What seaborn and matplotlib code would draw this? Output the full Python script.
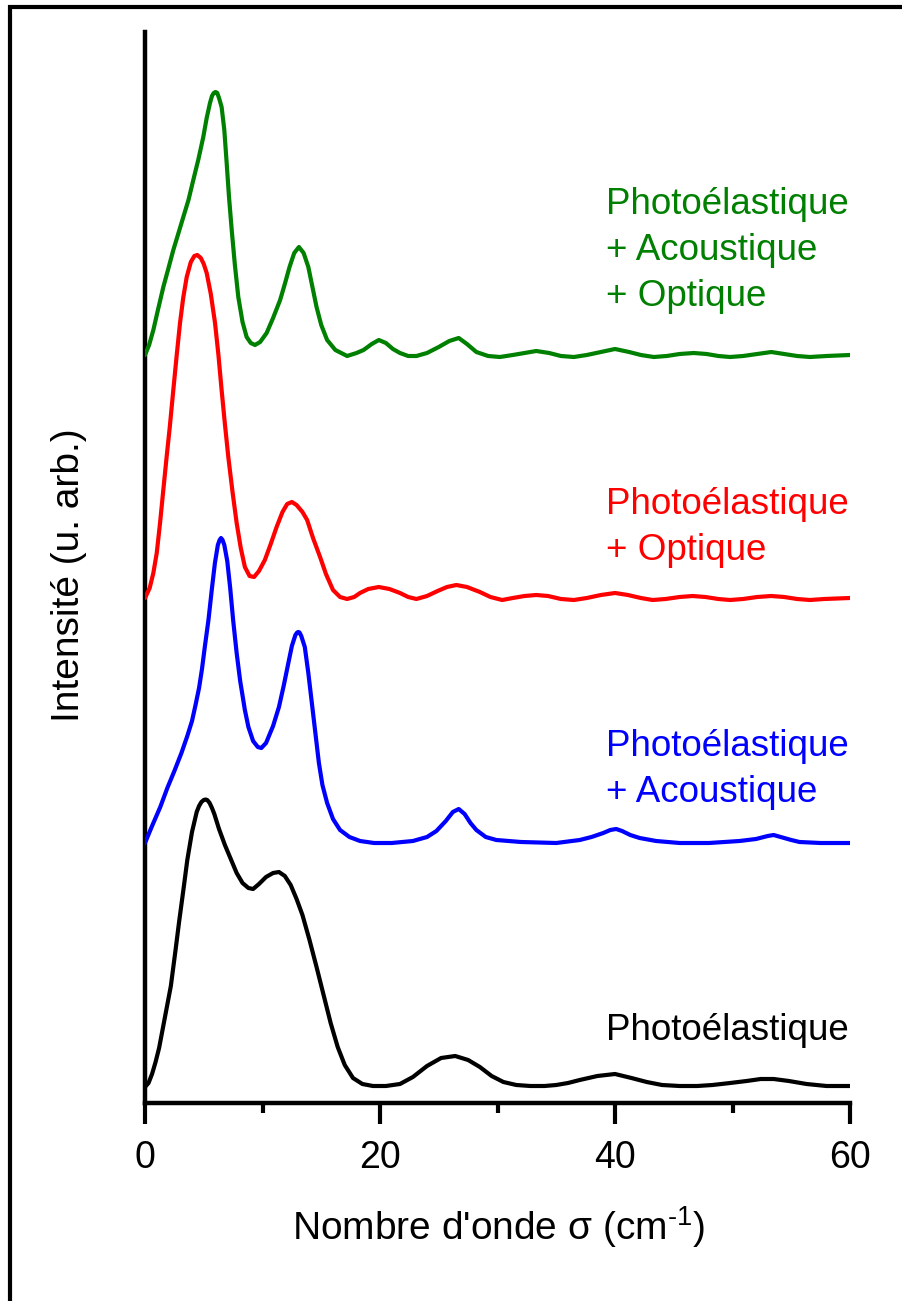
import numpy as np
import pandas as pd
import matplotlib
matplotlib.use("Agg")
import matplotlib.pyplot as plt
import seaborn as sns

sns.set_style("white")
plt.rcParams['font.family'] = ['Liberation Sans', 'DejaVu Sans']
plt.rcParams['mathtext.fontset'] = 'custom'
plt.rcParams['mathtext.rm'] = 'Liberation Sans'
plt.rcParams['text.color'] = 'black'
plt.rcParams['axes.labelcolor'] = 'black'
plt.rcParams['xtick.color'] = 'black'

# Photoélastique (noir)
sigma_pe = [0, 0.3, 0.6, 0.9, 1.2, 1.7, 2.2, 2.6, 2.9, 3.3, 3.6, 4.0, 4.4, 4.6, 4.8, 5.0, 5.15,
            5.3, 5.5, 5.7, 5.9, 6.3, 6.8,
            7.3, 7.8, 8.3, 8.8, 9.2, 9.7, 10.3, 10.9, 11.4, 11.9, 12.4, 12.9, 13.4, 14.0, 14.6,
            15.2, 15.8, 16.4, 17.0, 17.7, 18.5, 19.4, 20.5, 21.7, 22.8, 24.0, 25.2, 26.4, 27.5,
            28.5, 29.5, 30.5, 31.6, 32.8, 34.0, 35.0, 36.0, 37.0, 38.5, 40.0, 41.4, 42.7, 44.0,
            45.5, 47.0, 48.3, 49.8, 51.2, 52.4, 53.5, 54.8, 56.3, 58.0, 60.0]
int_pe = [0, 4, 13, 25, 39, 70, 101, 137, 165, 200, 227, 255, 275, 281, 285, 287, 287.5,
          287, 284, 279, 273, 258, 242,
          228, 214, 204, 199, 198, 203, 210, 214, 215, 211, 202, 188, 172, 147, 120,
          92, 64, 40, 22, 9, 3, 1, 1, 3, 10, 21, 29, 31, 27,
          20, 11, 5, 2, 1, 1, 2, 4, 7, 11, 13, 9, 5, 2,
          1, 1, 2, 4, 6, 8, 8, 6, 3, 1, 1]

# Photoélastique + Acoustique (bleu)
sigma_pa = [0, 0.6, 1.3, 1.9, 2.5, 3.1, 3.6, 4.0, 4.3, 4.6, 4.85, 5.1, 5.4, 5.7, 5.95, 6.2,
            6.35, 6.47, 6.6, 6.75, 7.0, 7.25, 7.5, 7.8, 8.1, 8.5, 8.8, 9.2, 9.6, 9.9, 10.3,
            10.9, 11.4, 11.8, 12.2, 12.5, 12.8, 12.95, 13.05, 13.15, 13.3, 13.6, 13.9, 14.2,
            14.5, 14.8, 15.1, 15.5,
            16.0, 16.6, 17.4, 18.3, 19.5, 21.0, 22.8, 24.0, 24.8, 25.6, 26.2, 26.7, 27.2,
            27.7, 28.2, 29.0, 29.9, 32.0, 35.0, 37.0, 38.0, 39.0, 39.6, 40.1, 40.6, 41.3,
            42.1, 43.5, 45.5, 48.0, 50.6, 52.0, 53.0, 53.5, 54.1, 55.0, 55.7, 57.5, 60.0]
int_pa = [0, 17, 36, 55, 72, 90, 107, 122, 138, 155, 174, 197, 223, 255, 280, 298,
          303, 305, 303, 298, 282, 255, 223, 190, 162, 133, 116, 102, 96, 95, 100,
          117, 136, 157, 180, 197, 208, 210.5, 211, 210.5, 207, 196, 170, 140,
          110, 80, 58, 40,
          24, 13, 6, 2, 0, 0, 2, 6, 12, 22, 31, 34, 29,
          20, 13, 6, 3, 1, 0, 3, 6, 10, 13, 14, 12, 8,
          5, 2, 0, 0, 2, 4, 7, 8, 6, 3, 1, 0, 0]

# Photoélastique + Optique (rouge)
sigma_po = [0, 0.4, 0.71, 1.0, 1.28, 1.55, 1.84, 2.1, 2.41, 2.7, 2.98, 3.25, 3.55, 3.9, 4.2,
            4.45, 4.75, 5.0, 5.25, 5.6, 5.96, 6.25, 6.52, 6.8, 7.09, 7.45, 7.8, 8.15, 8.5,
            8.9, 9.28, 9.7, 10.2, 10.7, 11.2, 11.7, 12.1, 12.5, 12.9, 13.4, 13.8, 14.3, 14.9,
            15.4, 16.0, 16.6, 17.2, 17.8, 18.3, 19.0, 19.9, 20.8, 21.7, 22.4, 23.1, 24.0,
            24.9, 25.7, 26.5, 27.4, 28.5, 29.4, 30.4, 31.3, 32.3, 33.3, 34.3, 35.4, 36.5,
            37.6, 38.8, 40.0, 41.1, 42.2, 43.2, 44.3, 45.5, 46.6, 47.7, 48.8, 49.8, 50.9,
            52.1, 53.3, 54.4, 55.5, 56.6, 57.8, 60.0]
int_po = [0, 10, 25, 45, 75, 107, 141, 170, 208, 243, 275, 300, 321, 336, 342,
          343, 340, 334, 325, 304, 275, 243, 208, 174, 141, 106, 75, 50, 31,
          22, 21, 27, 38, 54, 71, 86, 94, 96, 93, 86, 78, 60, 41,
          24, 8, 1, -1, 1, 5, 9, 11, 9, 5, 1, -1, 2,
          7, 11, 13, 11, 6, 1, -2, 0, 2, 3, 2, -1, -2,
          0, 3, 5, 3, 0, -2, -1, 1, 2, 1, -1, -2, -1,
          1, 2, 1, -1, -2, -1, 0]

# Photoélastique + Acoustique + Optique (vert)
sigma_pao = [0, 0.35, 0.71, 1.1, 1.56, 2.0, 2.41, 2.85, 3.26, 3.7, 4.11, 4.55, 4.96, 5.25,
             5.53, 5.7, 5.85, 6.01, 6.15, 6.3, 6.52, 6.75, 6.95, 7.15, 7.38, 7.65, 7.94, 8.3,
             8.65, 9.0,
             9.36, 9.8, 10.35, 10.9, 11.5, 11.9, 12.3, 12.7, 13.1, 13.5, 13.9, 14.25, 14.6,
             15.0, 15.5, 16.2, 17.2, 18.0, 18.6, 19.3, 19.9, 20.5, 21.1, 21.7, 22.4, 23.1,
             24.0, 25.0, 25.9, 26.7, 27.4, 28.2, 29.2, 30.2, 31.3, 32.3, 33.3, 34.4, 35.4,
             36.5, 37.6, 38.8, 40.0, 41.2, 42.2, 43.3, 44.4, 45.5, 46.7, 47.8, 48.8, 49.8,
             50.9, 52.1, 53.3, 54.4, 55.5, 56.6, 58.0, 60.0]
int_pao = [0, 10, 25, 45, 68, 87, 105, 122, 138, 155, 175, 196, 218, 237,
           252, 259, 262, 263, 262, 257, 248, 225, 192, 158, 125, 90, 58, 33,
           18, 12,
           10, 13, 22, 37, 55, 71, 88, 102, 108, 102, 88, 68, 48,
           30, 15, 5, -1, 2, 5, 11, 15, 12, 6, 2, -1, -1,
           2, 8, 14, 17, 11, 3, -1, -2, 0, 2, 4, 2, -1,
           -2, 0, 3, 6, 3, 0, -2, -1, 1, 2, 1, -1, -2,
           -1, 1, 3, 1, -1, -2, -1, 0]

series_names = ['Photoélastique', 'Photoélastique + Acoustique',
                'Photoélastique + Optique', 'Photoélastique + Acoustique + Optique']
series_sigma = [sigma_pe, sigma_pa, sigma_po, sigma_pao]
series_int = [int_pe, int_pa, int_po, int_pao]
offsets = [0, 244, 489, 732]
colors = ['black', '#0000ff', '#ff0000', '#008000']

label_lines = [['Photoélastique'],
               ['Photoélastique', '+ Acoustique'],
               ['Photoélastique', '+ Optique'],
               ['Photoélastique', '+ Acoustique', '+ Optique']]
label_y = [57, 317, 560, 837]

frames = []
for name, s, i, off in zip(series_names, series_sigma, series_int, offsets):
    frames.append(pd.DataFrame({'sigma': s, 'intensite': np.array(i) + off, 'serie': name}))
df = pd.concat(frames, ignore_index=True)

fig = plt.figure(figsize=(9.02, 13.01), dpi=100)
ax = fig.add_axes([145 / 902, 1 - 1103 / 1301, 705 / 902, 1071 / 1301])

sns.lineplot(data=df, x='sigma', y='intensite', hue='serie', hue_order=series_names,
             palette=colors, estimator=None, sort=False, legend=False, linewidth=3.0, ax=ax)
for line in ax.get_lines():
    line.set_solid_joinstyle('round')
    line.set_solid_capstyle('round')

ax.set_xlim(0, 60)
ax.set_ylim(-16, 1055)
ax.set_xticks([0, 20, 40, 60])
ax.set_xticks([10, 30, 50], minor=True)
ax.set_yticks([])
ax.tick_params(axis='x', which='major', direction='out', length=15, width=3,
               labelsize=27, pad=12, color='black', labelcolor='black', bottom=True)
ax.tick_params(axis='x', which='minor', direction='out', length=7, width=3,
               bottom=True, color='black')
for side in ['top', 'right']:
    ax.spines[side].set_visible(False)
for side in ['left', 'bottom']:
    ax.spines[side].set_linewidth(3.2)
    ax.spines[side].set_color('black')
    ax.spines[side].set_zorder(1)

ax.set_xlabel("Nombre d'onde σ (cm$^{\\mathregular{\u20101}}$)", fontsize=28, color='black')
ax.set_ylabel('Intensité (u. arb.)', fontsize=28, color='black')
ax.xaxis.set_label_coords(354 / 705, -124 / 1071)
ax.xaxis.label.set_va('center')
ax.yaxis.set_label_coords(-76 / 705, 528 / 1071)
ax.yaxis.label.set_va('center')

for lines, yc, col in zip(label_lines, label_y, colors):
    n = len(lines)
    for k, txt in enumerate(lines):
        ax.text(39.2, yc + (n - 1) * 23 - k * 46, txt, color=col, fontsize=26.5,
                ha='left', va='center')

# cadre autour de la figure
frame = plt.Rectangle((9.5 / 902, -0.1), 2, 1.1 - 7 / 1301, transform=fig.transFigure,
                      fill=False, edgecolor='black', linewidth=3, clip_on=False)
fig.add_artist(frame)

fig.savefig('out.png', dpi=100)
